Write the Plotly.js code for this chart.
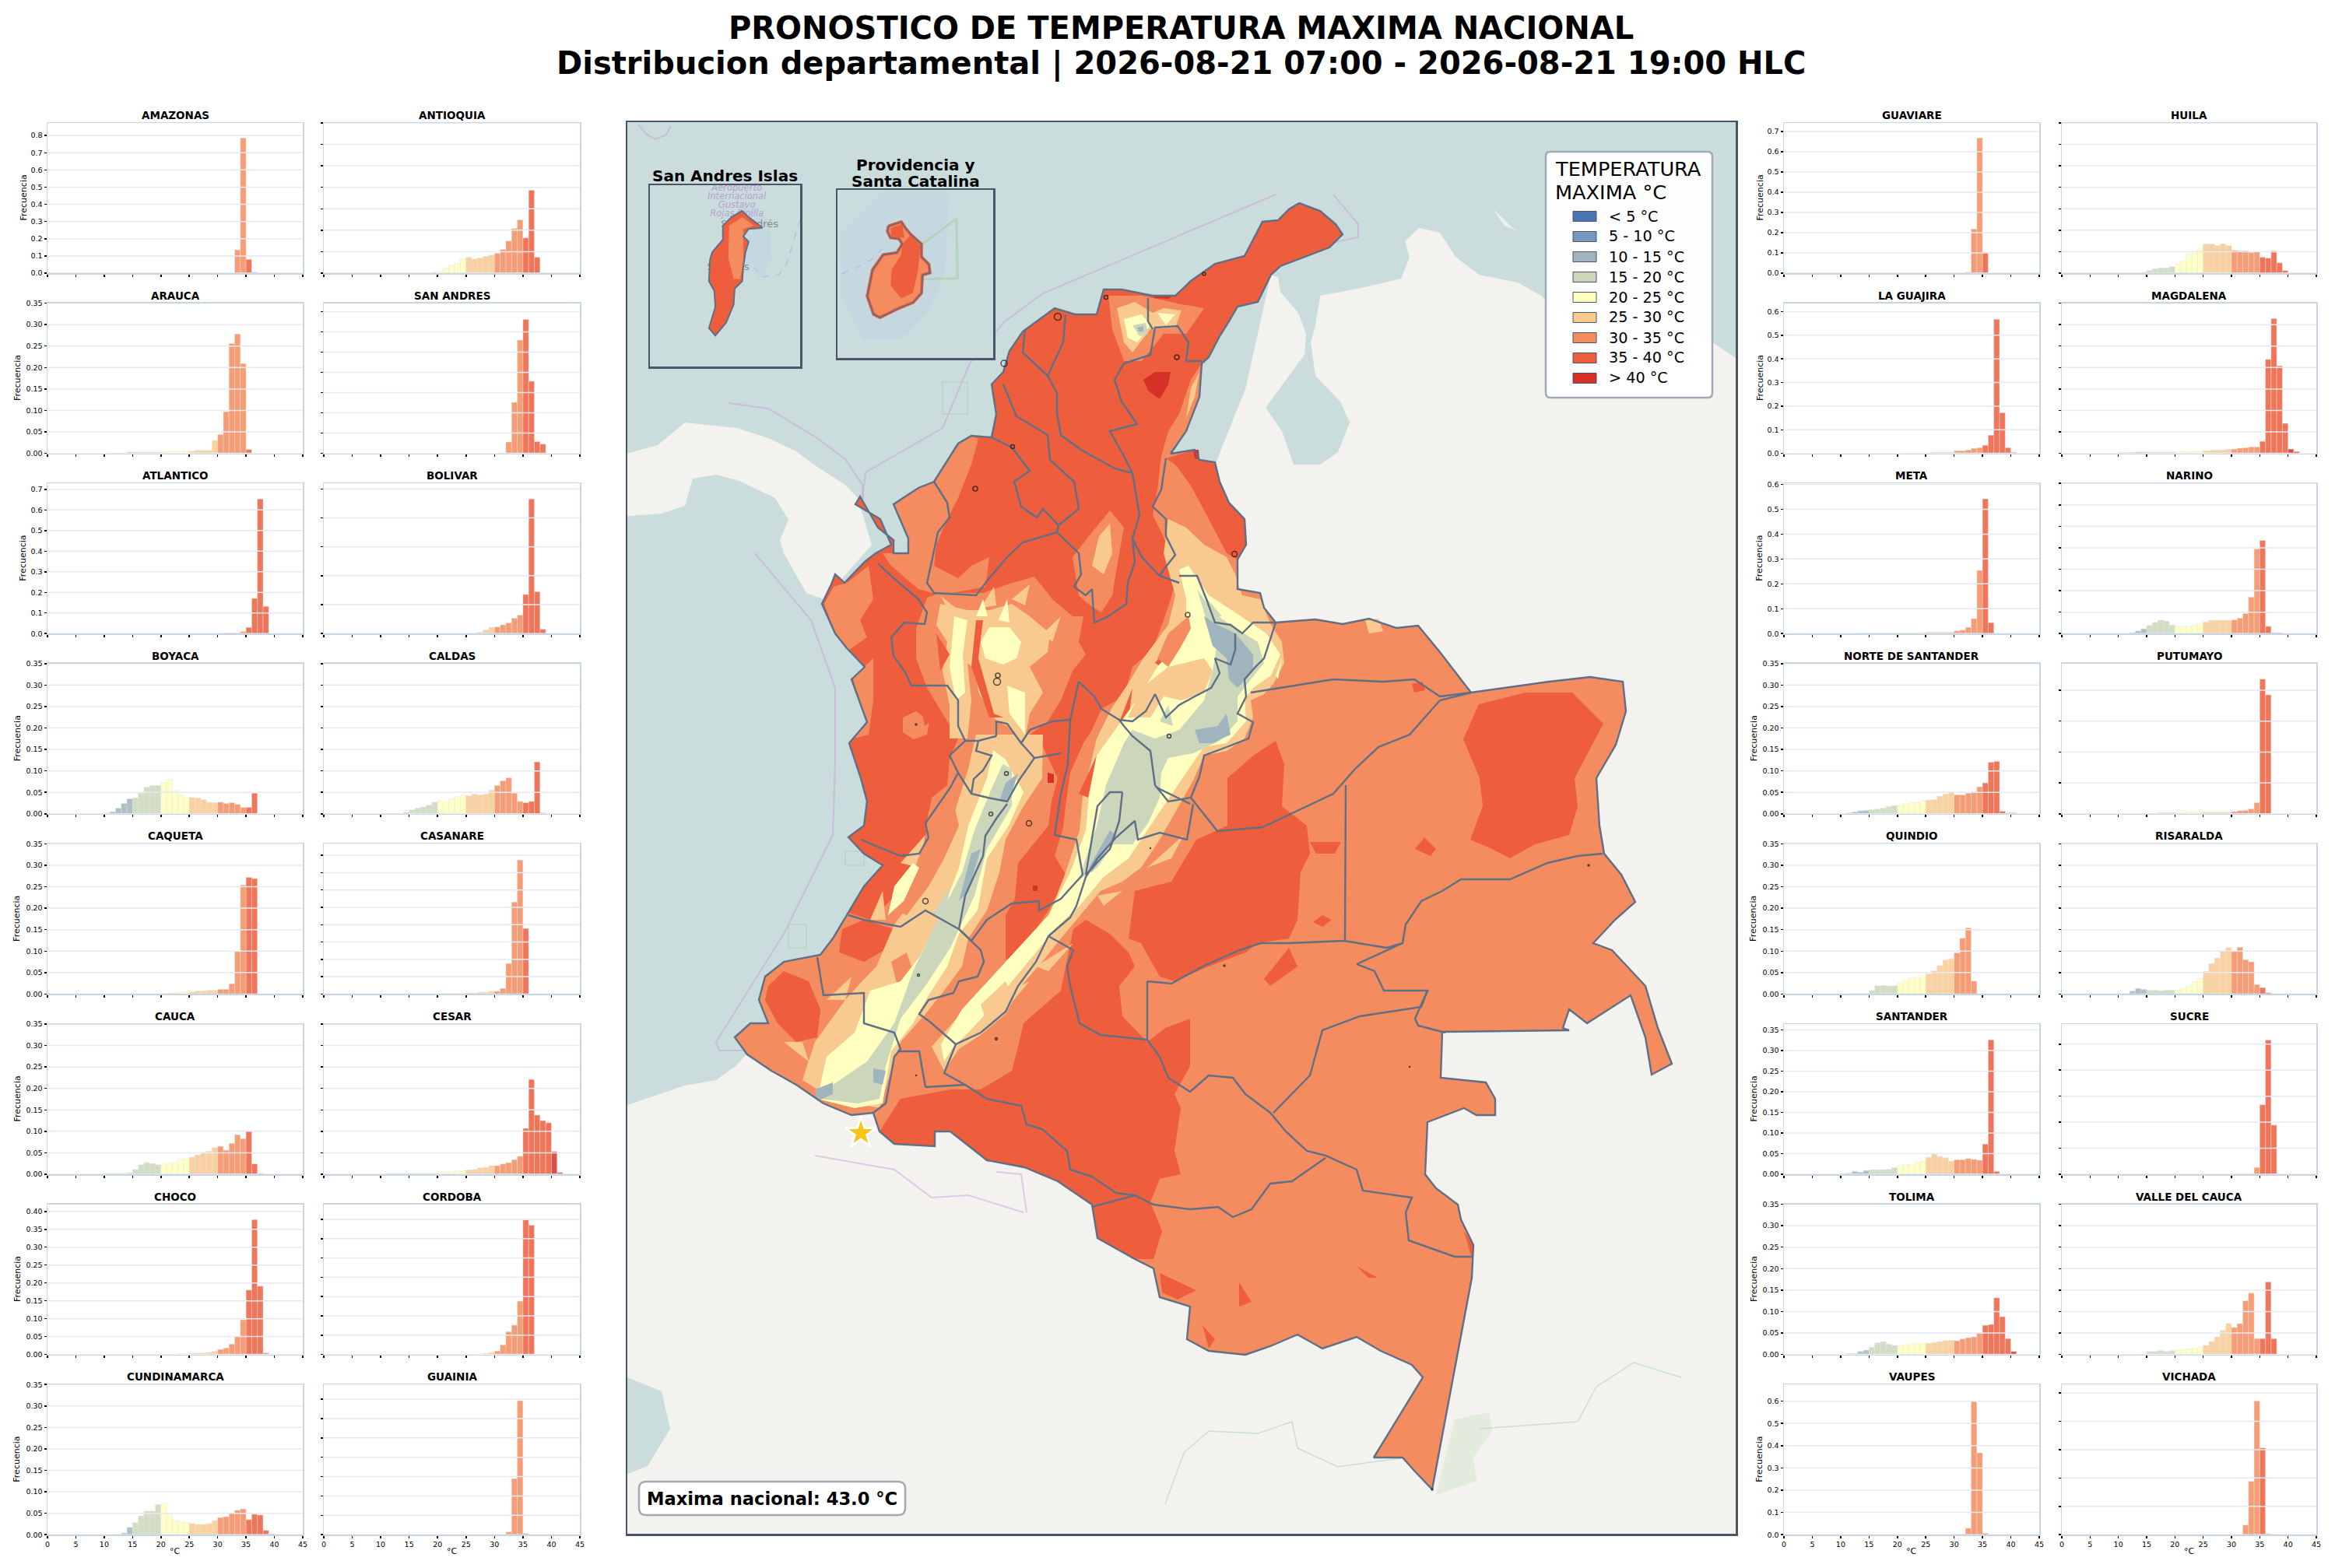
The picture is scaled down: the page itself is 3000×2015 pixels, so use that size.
<!DOCTYPE html>
<html>
<head>
<meta charset="utf-8">
<script src="https://cdn.plot.ly/plotly-3.0.1.min.js"></script>
<style>html,body{margin:0;padding:0;background:#fff}</style>
</head>
<body>
<div id="myDiv" style="width:3000px;height:2015px"></div>
<script>
/* jshint esversion: 6 */
/* global Plotly */

// Temperature classes: legend labels and colours
const classLabels = ['< 5 °C', '5 - 10 °C', '10 - 15 °C', '15 - 20 °C', '20 - 25 °C', '25 - 30 °C', '30 - 35 °C', '35 - 40 °C', '> 40 °C'];
const classColors = ['#4a74b4', '#7596bf', '#a0b4be', '#ccd6bb', '#ffffbf', '#f8ca90', '#f58c5f', '#ee5e3c', '#d73027'];

// Department histograms: frequency per 1 °C bin, beginning at firstBin
const deptNames = ['AMAZONAS', 'ANTIOQUIA', 'ARAUCA', 'SAN ANDRES', 'ATLANTICO', 'BOLIVAR', 'BOYACA', 'CALDAS',
    'CAQUETA', 'CASANARE', 'CAUCA', 'CESAR', 'CHOCO', 'CORDOBA', 'CUNDINAMARCA', 'GUAINIA',
    'GUAVIARE', 'HUILA', 'LA GUAJIRA', 'MAGDALENA', 'META', 'NARINO', 'NORTE DE SANTANDER', 'PUTUMAYO',
    'QUINDIO', 'RISARALDA', 'SANTANDER', 'SUCRE', 'TOLIMA', 'VALLE DEL CAUCA', 'VAUPES', 'VICHADA'];
const firstBin = [33, 19, 11, 31, 31, 26, 10, 10,
    20, 21, 10, 11, 23, 28, 13, 32,
    32, 14, 21, 10, 13, 12, 11, 15,
    12, 10, 10, 31, 11, 14, 31, 32];
const yTop = [0.873, 0.35, 0.35, 0.371, 0.729, 0.519, 0.35, 0.35,
    0.35, 0.433, 0.35, 0.35, 0.42, 0.389, 0.35, 0.388,
    0.742, 0.35, 0.636, 0.35, 0.604, 0.35, 0.35, 0.486,
    0.35, 0.35, 0.364, 0.577, 0.35, 0.35, 0.675, 0.53];

const amazonas = [0.135, 0.785, 0.08, 0.005];
const antioquia = [0.002, 0.005, 0.012, 0.019, 0.023, 0.033, 0.037, 0.033, 0.035, 0.039, 0.042, 0.046, 0.055, 0.075, 0.104, 0.124, 0.082, 0.193, 0.037];
const arauca = [0.001, 0.001, 0.001, 0.003, 0.003, 0.003, 0.003, 0.003, 0.003, 0.004, 0.004, 0.005, 0.005, 0.007, 0.005, 0.007, 0.007, 0.007, 0.03, 0.044, 0.097, 0.256, 0.278, 0.209, 0.009];
const sanAndres = [0.001, 0.028, 0.126, 0.28, 0.331, 0.178, 0.029, 0.023];
const atlantico = [0.003, 0.003, 0.003, 0.01, 0.03, 0.171, 0.653, 0.132];
const bolivar = [0.002, 0.005, 0.013, 0.022, 0.023, 0.03, 0.037, 0.053, 0.064, 0.135, 0.465, 0.145, 0.015];
const boyaca = [0.002, 0.005, 0.013, 0.024, 0.035, 0.037, 0.048, 0.062, 0.066, 0.066, 0.073, 0.08, 0.055, 0.044, 0.038, 0.038, 0.037, 0.033, 0.027, 0.026, 0.027, 0.024, 0.026, 0.022, 0.015, 0.015, 0.048];
const caldas = [0.001, 0.001, 0.001, 0.001, 0.003, 0.009, 0.013, 0.016, 0.02, 0.027, 0.031, 0.029, 0.035, 0.04, 0.044, 0.042, 0.046, 0.044, 0.046, 0.055, 0.066, 0.077, 0.084, 0.048, 0.029, 0.026, 0.029, 0.121, 0.002];
const caqueta = [0.002, 0.002, 0.004, 0.005, 0.005, 0.005, 0.007, 0.007, 0.009, 0.009, 0.011, 0.011, 0.024, 0.099, 0.254, 0.272, 0.269];
const casanare = [0.002, 0.002, 0.002, 0.002, 0.003, 0.003, 0.005, 0.005, 0.008, 0.008, 0.016, 0.088, 0.265, 0.386, 0.189];
const cauca = [0.002, 0.002, 0.002, 0.002, 0.003, 0.011, 0.022, 0.027, 0.025, 0.022, 0.024, 0.025, 0.029, 0.034, 0.036, 0.04, 0.045, 0.051, 0.054, 0.062, 0.065, 0.056, 0.072, 0.092, 0.083, 0.101, 0.024, 0.002];
const cesar = [0.002, 0.002, 0.002, 0.002, 0.002, 0.002, 0.002, 0.002, 0.002, 0.005, 0.005, 0.005, 0.007, 0.008, 0.01, 0.011, 0.015, 0.016, 0.02, 0.02, 0.024, 0.027, 0.034, 0.042, 0.107, 0.221, 0.138, 0.125, 0.12, 0.053, 0.004];
const choco = [0.002, 0.002, 0.004, 0.004, 0.004, 0.006, 0.009, 0.014, 0.018, 0.029, 0.051, 0.097, 0.18, 0.377, 0.191, 0.004];
const cordoba = [0.003, 0.005, 0.009, 0.025, 0.059, 0.076, 0.138, 0.349, 0.335];
const cundinamarca = [0.004, 0.017, 0.028, 0.044, 0.055, 0.055, 0.07, 0.073, 0.051, 0.033, 0.031, 0.028, 0.026, 0.024, 0.024, 0.026, 0.033, 0.04, 0.042, 0.05, 0.057, 0.06, 0.035, 0.048, 0.046, 0.01, 0.002];
const guainia = [0.007, 0.145, 0.346, 0.003];
const guaviare = [0.005, 0.218, 0.667, 0.102];
const huila = [0.002, 0.006, 0.01, 0.012, 0.012, 0.015, 0.021, 0.028, 0.044, 0.052, 0.058, 0.068, 0.068, 0.064, 0.068, 0.064, 0.053, 0.052, 0.052, 0.048, 0.05, 0.037, 0.035, 0.052, 0.024, 0.006];
const laGuajira = [0.002, 0.002, 0.002, 0.002, 0.002, 0.005, 0.005, 0.005, 0.005, 0.011, 0.011, 0.014, 0.021, 0.024, 0.034, 0.077, 0.568, 0.172, 0.024, 0.004];
const magdalena = [0.002, 0.002, 0.002, 0.003, 0.003, 0.003, 0.003, 0.003, 0.003, 0.003, 0.004, 0.004, 0.004, 0.004, 0.005, 0.006, 0.007, 0.008, 0.008, 0.01, 0.01, 0.012, 0.013, 0.015, 0.015, 0.028, 0.219, 0.314, 0.204, 0.07, 0.01, 0.004];
const meta = [0.002, 0.002, 0.002, 0.002, 0.002, 0.002, 0.002, 0.003, 0.003, 0.003, 0.003, 0.006, 0.006, 0.006, 0.006, 0.006, 0.006, 0.011, 0.014, 0.025, 0.06, 0.254, 0.542, 0.044];
const narino = [0.002, 0.006, 0.011, 0.019, 0.026, 0.031, 0.029, 0.02, 0.017, 0.017, 0.017, 0.021, 0.024, 0.027, 0.031, 0.031, 0.031, 0.031, 0.032, 0.036, 0.047, 0.085, 0.197, 0.217, 0.017, 0.002, 0.002];
const norteSantander = [0.002, 0.004, 0.007, 0.008, 0.01, 0.011, 0.013, 0.017, 0.019, 0.021, 0.023, 0.026, 0.026, 0.03, 0.032, 0.033, 0.041, 0.046, 0.051, 0.044, 0.044, 0.048, 0.051, 0.063, 0.072, 0.12, 0.122, 0.006, 0.002, 0.002];
const putumayo = [0.002, 0.002, 0.004, 0.004, 0.004, 0.004, 0.011, 0.006, 0.006, 0.006, 0.005, 0.005, 0.005, 0.005, 0.005, 0.007, 0.01, 0.011, 0.016, 0.036, 0.436, 0.385];
const quindio = [0.001, 0.001, 0.001, 0.008, 0.019, 0.02, 0.019, 0.019, 0.026, 0.032, 0.037, 0.039, 0.042, 0.047, 0.054, 0.066, 0.079, 0.082, 0.096, 0.13, 0.154, 0.03];
const risaralda = [0.001, 0.001, 0.007, 0.013, 0.011, 0.009, 0.009, 0.008, 0.009, 0.009, 0.009, 0.013, 0.019, 0.028, 0.036, 0.053, 0.071, 0.084, 0.099, 0.108, 0.099, 0.109, 0.08, 0.075, 0.022, 0.015, 0.003];
const santander = [0.002, 0.003, 0.007, 0.005, 0.009, 0.011, 0.011, 0.011, 0.012, 0.016, 0.021, 0.023, 0.024, 0.029, 0.032, 0.041, 0.049, 0.043, 0.04, 0.032, 0.035, 0.035, 0.038, 0.036, 0.034, 0.073, 0.326, 0.007];
const sucre = [0.002, 0, 0.002, 0.026, 0.267, 0.516, 0.189];
const tolima = [0.002, 0.002, 0.007, 0.01, 0.017, 0.027, 0.03, 0.024, 0.021, 0.021, 0.023, 0.025, 0.026, 0.026, 0.026, 0.028, 0.03, 0.032, 0.033, 0.032, 0.036, 0.039, 0.041, 0.05, 0.068, 0.07, 0.132, 0.088, 0.037, 0.007];
const valleCauca = [0.001, 0.007, 0.007, 0.009, 0.007, 0.009, 0.01, 0.012, 0.013, 0.015, 0.017, 0.021, 0.03, 0.041, 0.056, 0.072, 0.063, 0.072, 0.125, 0.143, 0.037, 0.037, 0.169, 0.037];
const vaupes = [0.002, 0.029, 0.6, 0.368, 0.006];
const vichada = [0.034, 0.188, 0.472, 0.306, 0.003];
const deptFreqs = [amazonas, antioquia, arauca, sanAndres, atlantico, bolivar, boyaca, caldas,
    caqueta, casanare, cauca, cesar, choco, cordoba, cundinamarca, guainia,
    guaviare, huila, laGuajira, magdalena, meta, narino, norteSantander, putumayo,
    quindio, risaralda, santander, sucre, tolima, valleCauca, vaupes, vichada];

// Map geometry, flat lon,lat pairs
const guajiraEast = [-71.81,12.39, -71.54,12.29, -71.34,12.12, -71.25,11.99, -71.42,11.82, -71.71,11.71, -72.05,11.58, -72.17,11.47, -72.34,11.12, -72.60,11.06, -72.71,10.87, -72.83,10.68, -72.97,10.41, -73.06,10.33];
const borderVenezuela = [-73.09,9.90, -73.26,9.46, -73.46,9.17, -73.15,9.22, -73.09,9.09, -72.89,9.06, -72.83,8.81, -72.71,8.54, -72.51,8.33, -72.49,8.00, -72.60,7.81, -72.60,7.43, -72.31,7.38, -72.26,7.19, -72.11,7.00, -71.60,7.04, -71.25,6.98, -70.91,7.05, -70.56,6.93, -70.28,6.96, -70.0,6.62, -69.6,6.1, -68.6,6.24, -68.07,6.30, -67.65,6.24, -67.61,5.86, -67.74,5.43];
const borderEast = [-67.99,5.0, -67.95,4.39, -67.89,4.03, -67.67,3.76, -67.49,3.41, -67.75,3.18, -68.03,2.88, -67.79,2.79, -67.51,2.49, -67.36,2.33, -67.20,1.79, -67.02,1.33, -67.28,1.19, -67.36,1.67, -67.55,2.21, -67.83,2.03, -68.11,1.85, -68.34,2.03, -68.42,1.79, -68.34,1.76, -69.97,1.74, -69.99,1.15, -69.41,1.09, -69.29,0.88, -69.29,0.67, -69.53,0.67, -69.69,0.76, -70.16,0.58, -70.19,-0.09, -70.05,-0.27, -69.77,-0.48, -69.73,-0.67, -69.57,-1.0, -69.59,-1.42, -70.10,-4.14];
const borderSouth = [-70.32,-3.91, -70.48,-3.73, -70.85,-3.73, -70.22,-2.70, -70.36,-2.54, -70.76,-2.36, -71.07,-2.18, -71.51,-2.33, -71.83,-2.15, -72.18,-2.30, -72.50,-2.41, -72.97,-2.36, -73.25,-2.21, -73.21,-1.79, -73.60,-1.67, -73.68,-1.30, -73.92,-1.18, -74.40,-0.91, -74.47,-0.48, -74.91,-0.18, -75.34,0.0, -75.82,0.09, -76.29,0.46, -76.49,0.46, -76.49,0.27, -77.01,0.30, -77.20,0.46, -77.28,0.70, -77.56,0.67, -77.92,0.82, -78.27,1.06, -78.59,1.24, -78.90,1.45, -79.06,1.67, -78.86,1.85, -78.63,1.85, -78.75,2.15, -78.67,2.45, -78.43,2.64, -77.96,2.73, -77.80,2.94];
const pacificNorth = [-77.60,3.27, -77.40,3.61, -77.16,3.88, -77.40,4.03, -77.60,4.24, -77.40,4.39, -77.36,4.70, -77.44,5.0, -77.59,5.45, -77.36,5.72, -77.56,6.27, -77.39,6.43, -77.62,6.67, -77.77,6.86, -77.94,7.24, -77.82,7.49, -77.77,7.62, -77.65,7.51, -77.39,7.78, -77.25,7.89, -77.05,8.00, -77.19,8.33, -77.51,8.52, -77.45,8.62, -77.22,8.22, -77.02,8.06, -77.02,7.89, -76.83,7.89, -76.83,8.08];
const caribbean = [-77.02,8.52, -76.70,8.73, -76.50,8.81, -76.19,9.30, -76.02,9.40, -75.76,9.38, -75.70,9.68, -75.76,10.06, -75.61,10.22, -75.53,10.49, -75.36,10.74, -74.95,11.04, -74.69,10.96, -74.41,10.96, -74.32,11.28, -74.09,11.28, -73.69,11.20, -73.40,11.20, -73.20,11.39, -72.89,11.61, -72.51,11.71, -72.28,12.15, -72.08,12.17, -71.94,12.31];

const valleyInner = [-73.20,10.12, -73.35,9.68, -73.49,9.46, -73.58,9.14, -73.63,8.71, -73.69,8.38, -73.58,8.16, -73.46,7.89, -73.37,7.62, -73.46,7.30, -73.55,7.03, -73.69,6.65, -73.95,6.43, -74.06,6.05, -74.35,5.89, -74.47,5.62, -74.58,5.45, -74.75,5.07, -74.81,4.64, -74.84,4.37, -74.95,4.0, -74.79,3.73, -75.03,3.30, -75.27,2.94, -75.34,2.70, -75.58,2.67, -75.58,3.24, -75.46,3.45, -75.42,3.91, -75.03,4.39, -74.99,4.70, -74.91,5.0, -75.10,5.40, -75.33,5.51, -75.04,5.73, -74.87,6.0, -74.72,6.38, -74.55,6.59, -74.64,6.75, -74.58,7.08, -74.72,7.08, -74.98,7.30, -75.21,7.59, -75.56,7.49, -75.87,7.38, -76.42,7.38, -76.59,7.32, -76.73,6.92, -76.73,6.54, -76.59,6.16, -76.36,5.78, -76.19,5.51, -76.30,5.24, -76.33,4.91, -76.53,4.75, -76.59,4.42, -76.62,4.0, -76.93,3.55, -77.32,3.18];

// Areas in the 35-40 class
const hot35 = [
    caribbean.concat(guajiraEast, valleyInner, pacificNorth),
    [-73.15,9.22, -73.09,9.09, -72.89,9.06, -72.83,8.81, -72.71,8.54, -72.51,8.33, -72.49,8.0, -72.60,7.81, -72.74,7.89, -72.97,8.33, -73.20,8.76, -73.40,9.03, -73.52,9.11],
    [-77.20,0.46, -77.01,0.30, -76.49,0.27, -76.49,0.46, -76.29,0.46, -75.82,0.09, -75.34,0.0, -74.91,-0.18, -74.47,-0.48, -74.40,-0.91, -73.92,-1.18, -73.68,-1.18, -73.57,-0.82, -73.72,-0.45, -73.60,-0.15, -73.33,-0.09, -73.41,0.21, -73.33,0.76, -73.41,0.94, -73.21,1.30, -73.21,1.91, -73.53,1.79, -73.76,1.61, -74.08,1.94, -74.12,2.33, -73.92,2.58, -74.0,2.76, -74.24,3.0, -74.55,3.18, -74.71,3.06, -74.87,2.27, -75.35,1.85, -75.42,1.55, -75.50,1.24, -75.90,1.0, -76.29,1.0, -76.61,0.94, -76.93,0.88],
    [-73.96,3.24, -73.92,3.55, -73.45,3.67, -73.13,4.21, -72.73,4.39, -72.73,5.0, -72.40,5.29, -72.11,5.48, -72.0,5.18, -72.03,4.64, -71.71,4.39, -71.67,4.03, -71.79,3.79, -71.83,3.18, -71.94,2.94, -72.34,2.88, -72.50,2.76, -72.97,2.58, -73.41,2.39, -73.60,2.45, -73.84,2.88, -74.0,2.94],
    [-69.61,4.21, -69.45,4.64, -69.49,5.0, -69.7,5.5, -69.5,5.95, -68.9,6.1, -68.3,6.1, -67.9,5.7, -68.27,5.0, -68.23,4.64, -68.34,4.27, -68.78,4.15, -69.1,3.97, -69.33,4.09],
    [-78.63,2.33, -78.43,2.52, -78.11,2.39, -77.96,2.03, -78.0,1.67, -78.27,1.61, -78.51,1.85, -78.67,2.15],
    [-77.68,3.06, -77.40,3.18, -77.01,3.06, -77.09,2.82, -77.40,2.64, -77.72,2.76],
    [-73.60,-1.36, -73.13,-1.58, -73.37,-1.70, -73.57,-1.61],
    [-73.05,-2.03, -72.89,-2.21, -72.97,-2.33],
    [-72.58,-1.48, -72.42,-1.73, -72.58,-1.79],
    [-69.69,-0.82, -69.57,-1.0, -69.59,-1.18],
    [-71.07,-1.27, -70.80,-1.42, -70.92,-1.42],
    [-71.94,2.82, -71.83,2.58, -72.18,2.33, -72.26,2.42],
    [-71.51,3.24, -71.39,3.18, -71.51,3.09, -71.63,3.15],
    [-71.67,4.18, -71.27,4.18, -71.35,4.03, -71.59,4.03],
    [-70.32,4.09, -70.20,4.24, -70.05,4.09, -70.12,4.0],
    [-70.36,6.21, -70.22,6.24, -70.19,6.13, -70.33,6.10]
];
// Areas in the 30-35 class lying on top of the 35-40 areas
const warm30 = [
    [-77.02,8.52, -76.70,8.73, -76.50,8.81, -76.19,9.30, -76.02,9.40, -75.93,9.36, -76.02,9.03, -76.19,8.60, -76.33,8.33, -76.47,8.0, -76.50,7.73, -76.19,7.57, -76.02,7.73, -75.79,7.84, -75.84,7.46, -76.42,7.35, -76.70,7.43, -77.05,7.73, -77.16,7.89, -77.02,7.89, -76.83,7.89, -76.83,8.08],
    [-74.47,8.16, -74.24,8.44, -74.06,8.22, -74.12,7.89, -74.21,7.35, -74.35,7.13, -74.52,7.24, -74.64,7.35, -74.72,7.84],
    [-77.91,7.24, -77.79,7.46, -77.62,7.51, -77.34,7.73, -77.28,7.30, -77.45,7.03, -77.36,6.81, -77.59,6.65, -77.77,6.86],
    [-76.90,5.78, -76.73,5.86, -76.56,5.73, -76.59,5.56, -76.76,5.50, -76.90,5.59],
    [-77.45,6.38, -77.28,6.54, -77.28,6.0, -77.34,5.56, -77.54,5.51, -77.36,5.72, -77.54,6.27],
    [-74.26,11.20, -73.83,11.20, -73.32,11.09, -73.03,11.04, -73.26,10.71, -73.55,10.71, -73.83,10.36, -74.06,10.36, -74.21,10.77]
];
// Andes, by class
const mild25 = [
    [-74.38,8.11, -74.24,8.27, -74.21,7.89, -74.32,7.62, -74.47,7.73],
    [-73.09,10.22, -73.15,9.90, -73.26,9.63, -73.20,10.01],
    [-74.15,11.04, -73.92,11.12, -73.69,10.98, -73.55,11.04, -73.32,11.01, -73.40,10.79, -73.72,10.77, -73.95,10.47, -74.06,10.60],
    [-70.96,7.03, -70.79,7.05, -70.73,6.89, -70.91,6.86],
    [-76.42,7.24, -76.07,7.16, -75.79,7.16, -75.50,7.24, -75.27,7.08, -75.01,6.86, -75.04,6.62, -75.27,6.43, -75.10,6.10, -75.27,5.83, -75.33,5.51, -75.38,5.45, -75.56,5.67, -75.70,5.73, -75.93,6.10, -75.96,6.38, -76.07,6.48, -76.02,6.0, -76.07,5.51, -76.30,5.51, -76.30,5.94, -76.39,6.38, -76.33,6.75, -76.47,6.97],
    [-75.96,5.56, -75.10,5.56, -75.11,5.0, -75.35,4.64, -75.58,4.21, -75.66,3.79, -75.82,3.30, -76.06,2.94, -76.14,2.58, -76.37,2.27, -76.61,1.97, -76.93,1.61, -77.09,1.12, -77.20,0.76, -77.80,0.88, -78.19,1.12, -78.03,1.61, -77.64,2.15, -77.48,2.33, -77.24,2.58, -77.01,3.12, -76.69,3.55, -76.37,4.09, -76.21,4.64, -76.06,5.12],
    [-73.49,8.33, -73.26,8.22, -73.03,8.0, -72.74,7.84, -72.63,7.62, -72.54,7.35, -72.31,7.30, -72.17,6.97, -72.03,6.75, -72.0,6.48, -72.14,6.21, -72.26,6.08, -72.43,6.0, -72.40,5.78, -72.51,5.51, -72.74,5.35, -73.03,5.29, -73.17,4.97, -73.60,4.21, -73.84,3.85, -74.08,3.67, -74.36,3.55, -74.67,3.18, -74.87,2.94, -75.11,2.64, -75.38,2.33, -75.58,1.97, -75.90,1.70, -76.18,1.52, -76.37,1.24, -76.53,1.55, -76.21,1.91, -75.66,2.52, -75.07,3.12, -74.83,3.73, -74.63,4.33, -74.59,4.76, -74.41,5.51, -74.21,5.91, -74.01,6.21, -73.81,6.54, -73.49,6.97, -73.40,7.35, -73.55,7.89]
];
const cauca30 = [
    [-76.57,4.58, -76.25,4.70, -76.18,4.39, -76.37,3.97, -76.57,3.61, -76.85,3.24, -77.01,3.30, -76.77,3.79, -76.61,4.21],
    [-77.05,2.64, -76.85,2.76, -76.77,2.52, -76.97,2.33]
];
// Spurs along the class edges
const spurs25 = [
    [-75.10,6.86, -74.87,7.08, -74.98,6.75],
    [-76.30,7.13, -76.42,7.35, -76.19,7.16],
    [-75.90,7.19, -75.73,7.46, -75.70,7.22],
    [-75.50,7.30, -75.27,7.49, -75.33,7.22],
    [-76.93,3.91, -76.61,4.27, -76.69,3.85],
    [-77.32,3.18, -77.16,3.55, -77.12,3.18],
    [-77.56,2.45, -77.88,2.15, -77.64,2.15],
    [-78.11,1.36, -78.43,1.61, -78.19,1.61],
    [-73.76,3.85, -73.29,4.27, -73.45,3.97],
    [-74.40,3.49, -74.08,3.55, -74.32,3.36],
    [-75.19,2.58, -74.71,2.88, -75.03,2.52],
    [-75.66,2.21, -75.27,2.39, -75.58,2.03]
];
const spurs35 = [
    [-74.64,4.80, -74.41,5.29, -74.52,4.75],
    [-74.12,5.72, -73.95,6.16, -74.01,5.67],
    [-73.66,6.48, -73.46,6.75, -73.58,6.43],
    [-76.47,6.86, -76.30,6.59, -76.42,6.38],
    [-76.70,6.10, -76.47,5.78, -76.62,5.67]
];
const spurs20 = [
    [-72.11,6.32, -72.03,6.54, -72.08,6.27],
    [-75.96,7.08, -75.87,7.30, -75.81,7.08],
    [-75.67,7.03, -75.56,7.30, -75.53,7.0]
];
const spurs15 = [
    [-73.60,5.73, -73.49,5.94, -73.43,5.67],
    [-72.80,7.08, -73.03,7.35, -72.92,7.05],
    [-76.29,3.61, -76.53,3.24, -76.37,3.18]
];
const cool20 = [
    [-74.06,10.90, -73.83,10.96, -73.72,10.82, -73.89,10.60, -74.01,10.66],
    [-73.63,10.98, -73.40,10.96, -73.52,10.82],
    [-75.79,6.94, -75.53,6.94, -75.38,6.75, -75.44,6.54, -75.61,6.46, -75.84,6.54, -75.90,6.75],
    [-75.56,6.19, -75.33,6.10, -75.33,5.56, -75.41,5.67, -75.53,5.83],
    [-76.24,7.08, -76.07,7.03, -76.13,6.59, -76.10,6.10, -76.22,6.0, -76.30,6.43, -76.27,6.75],
    [-77.01,3.61, -76.77,3.91, -76.69,3.85, -76.89,3.42, -77.09,3.24],
    [-75.74,5.36, -75.58,5.24, -75.35,4.82, -75.54,4.39, -75.82,3.97, -75.94,3.30, -76.18,3.0, -76.33,2.58, -76.57,2.21, -76.77,1.85, -77.05,1.49, -77.16,0.82, -77.52,0.76, -78.0,0.88, -77.88,1.42, -77.52,1.73, -77.32,2.27, -76.93,2.39, -76.69,2.70, -76.41,3.24, -76.18,3.85, -76.06,4.39, -75.82,5.0],
    [-73.23,7.73, -72.97,7.35, -72.63,7.13, -72.23,6.86, -72.05,6.59, -72.17,6.32, -72.40,6.16, -72.51,6.02, -72.49,5.73, -72.74,5.45, -73.03,5.40, -73.26,5.07, -73.76,4.33, -74.0,3.97, -74.32,3.73, -74.63,3.36, -74.95,3.06, -75.19,2.76, -75.50,2.39, -75.78,2.03, -76.06,1.73, -76.25,1.55, -76.37,1.36, -76.41,1.58, -76.14,2.03, -75.58,2.64, -75.03,3.24, -74.75,3.79, -74.55,4.33, -74.51,4.76, -74.41,5.29, -74.06,5.78, -73.83,6.10, -73.63,6.43, -73.26,6.86, -73.26,7.30, -73.35,7.68]
];
const boyaca25 = [
    [-74.01,5.78, -73.83,6.16, -73.49,6.43, -73.03,6.54, -72.92,6.38, -73.03,6.10, -73.32,6.0, -73.55,6.05, -73.72,5.78],
    [-75.90,2.09, -75.58,2.39, -75.50,2.21, -75.82,1.85]
];
// thin hot canyon of the Cauca river and warm spots inside the high ground
const canyon35 = [-75.96,7.03, -75.87,7.03, -75.93,6.54, -75.73,5.83, -75.61,5.78, -75.79,5.78, -76.02,6.43];
const boyaca30 = [-73.49,6.86, -73.23,7.08, -73.20,6.92, -73.35,6.65, -73.49,6.43, -73.63,6.54];
const cold15 = [
    [-73.95,10.82, -73.78,10.85, -73.75,10.71, -73.86,10.68],
    [-75.62,5.18, -75.50,5.12, -75.50,4.64, -75.82,4.09, -75.98,3.49, -76.29,2.82, -76.61,2.33, -76.93,1.91, -77.12,1.30, -77.20,0.88, -77.48,0.82, -77.96,0.88, -77.80,1.06, -77.36,1.36, -77.01,1.85, -76.77,2.52, -76.45,3.18, -76.14,3.79, -75.98,4.33, -75.78,4.82],
    [-73.12,7.43, -72.92,7.13, -72.69,6.97, -72.34,6.75, -72.26,6.48, -72.43,6.27, -72.60,6.05, -72.60,5.73, -72.83,5.48, -73.17,5.32, -73.49,5.26, -73.58,5.07, -73.60,4.75, -73.75,4.42, -73.95,4.15, -74.20,4.15, -74.40,3.85, -74.63,3.70, -74.55,3.97, -74.41,4.38, -74.29,4.91, -74.06,5.45, -73.95,5.62, -73.66,5.51, -73.35,5.62, -73.03,6.0, -72.92,6.38, -72.86,6.75, -73.0,7.03]
];
const cold10 = [
    [-73.89,10.79, -73.81,10.81, -73.81,10.74, -73.87,10.74],
    [-75.42,5.06, -75.50,4.82, -75.58,4.70, -75.66,4.70, -75.58,4.94],
    [-75.90,4.09, -76.06,3.55, -76.18,3.42, -76.02,4.03],
    [-78.03,1.0, -77.80,1.09, -77.80,0.94, -78.0,0.85],
    [-77.28,1.27, -77.12,1.24, -77.16,1.06, -77.28,1.09],
    [-73.03,7.08, -72.86,6.97, -72.63,6.86, -72.40,6.59, -72.40,6.38, -72.60,6.16, -72.71,6.27, -72.74,6.54, -72.92,6.70],
    [-73.15,5.62, -72.86,5.67, -72.74,5.83, -72.69,5.56, -72.92,5.45, -73.09,5.45],
    [-74.24,4.33, -74.16,4.27, -74.36,3.97, -74.47,3.79, -74.51,3.85]
];
const extreme40 = [
    [-73.81,10.12, -73.66,10.22, -73.46,10.22, -73.49,10.06, -73.60,9.87, -73.75,9.98],
    [-73.17,9.22, -73.10,9.22, -73.09,9.10, -73.15,9.11],
    [-75.04,5.07, -74.96,5.05, -74.96,4.94, -75.04,4.94],
    [-73.69,11.20, -73.43,11.20, -73.49,11.16, -73.66,11.17],
    [-75.23,3.62, -75.17,3.62, -75.17,3.55, -75.23,3.55]
];

// Department limits
const deptLines = [
    [-74.81,10.96, -74.84,10.60, -75.04,10.17, -74.92,9.95, -74.92,9.68, -74.87,9.41, -74.61,9.22, -74.41,9.11, -74.18,8.98, -73.95,8.92],
    [-75.33,10.77, -75.36,10.47, -75.04,10.17],
    [-75.61,10.06, -75.44,9.65, -75.04,9.41, -75.01,9.09, -74.70,8.81, -74.64,8.46, -74.90,8.25, -74.92,8.16],
    [-75.76,9.38, -75.50,9.25, -75.27,8.95, -75.47,8.81, -75.38,8.49, -75.18,8.35, -75.10,8.46, -74.90,8.25],
    [-76.50,8.81, -76.33,8.54, -76.30,8.35, -76.45,8.16, -76.53,7.78, -76.59,7.51, -76.50,7.38, -75.96,7.35, -75.79,7.57, -75.56,7.84, -75.36,8.03, -74.98,8.14, -74.92,8.16],
    [-74.92,8.16, -74.64,7.89, -74.61,7.62, -74.70,7.46, -74.55,7.35, -74.47,7.43, -74.44,7.0, -74.26,7.08, -74.03,7.24, -74.01,7.51, -73.92,7.78, -73.95,8.08, -73.86,8.38, -73.95,8.92],
    [-73.95,8.92, -74.06,9.14, -74.24,9.46, -73.89,9.55, -74.09,9.84, -74.18,10.12, -74.06,10.33, -73.72,10.44, -73.66,10.79, -73.37,10.81, -73.23,10.60, -73.26,10.36, -73.06,10.36],
    [-73.75,11.17, -73.75,10.87, -73.69,10.77],
    [-73.95,8.08, -73.83,7.84, -73.60,7.60, -73.35,7.51],
    [-73.52,9.11, -73.58,8.71, -73.69,8.49, -73.52,8.33, -73.52,8.11, -73.40,7.87, -73.55,7.68, -73.60,7.60],
    [-73.35,7.60, -73.12,7.60, -73.0,7.30, -72.89,7.0, -72.69,6.97, -72.54,6.86, -72.40,7.0, -72.11,7.0],
    [-72.63,6.86, -72.63,6.65, -72.69,6.46, -72.89,6.54, -72.83,6.35, -72.94,6.16, -73.15,6.05, -73.35,5.94, -73.52,5.78, -73.66,6.08, -73.78,5.86, -73.95,5.73, -74.12,5.75, -74.35,5.89, -74.44,6.05, -74.64,6.24, -74.75,5.75, -74.98,5.73, -75.27,5.62, -75.38,5.45, -75.56,5.70, -75.70,5.73, -75.70,5.54],
    [-72.11,7.0, -72.26,6.54, -72.37,6.43, -72.51,6.27, -72.49,6.05, -72.60,5.83, -72.40,5.72, -72.46,5.51, -72.74,5.40, -73.03,5.29, -73.09,5.02, -73.20,4.75, -73.49,4.70, -73.66,4.91, -73.72,5.35, -73.95,5.54, -74.06,5.67, -74.12,5.75],
    [-72.43,6.10, -71.88,6.19, -71.37,6.27, -70.73,6.24, -70.33,6.27, -70.0,6.05, -69.6,6.1],
    [-69.6,6.1, -70.0,6.0, -70.39,5.56, -70.79,5.40, -71.08,5.13, -71.37,4.80, -71.94,4.53, -72.28,4.37, -72.86,4.32, -73.20,4.75],
    [-71.21,4.91, -71.22,2.91],
    [-73.76,2.39, -73.45,2.36, -73.05,2.58, -72.58,2.79, -72.30,2.88, -71.94,2.88, -71.23,2.91, -70.68,2.82, -70.48,2.88, -70.44,3.12, -70.32,3.30, -70.24,3.42, -69.97,3.55, -69.73,3.70, -69.10,3.70, -68.62,3.91, -68.23,4.0, -67.91,4.03],
    [-71.07,2.61, -70.48,2.88],
    [-71.07,2.61, -70.84,2.52, -70.72,2.27, -70.16,2.27, -70.32,1.91, -70.28,1.82, -69.93,1.73],
    [-70.16,2.27, -70.24,2.06, -71.03,1.94, -71.51,1.76, -71.67,1.18, -72.14,0.70],
    [-73.76,2.39, -73.76,1.64, -73.60,1.42, -73.49,1.15, -73.21,0.97, -72.97,1.18, -72.66,1.15, -72.50,0.94, -72.18,0.70, -71.98,0.46, -71.71,0.21, -71.47,0.15, -71.07,-0.03, -70.99,-0.30, -70.36,-0.39, -70.44,-0.58, -70.40,-0.94, -69.81,-1.15, -69.57,-1.15],
    [-74.47,-0.51, -73.92,-0.36, -73.68,-0.48, -73.21,-0.54, -72.85,-0.51, -72.66,-0.64, -72.42,-0.54, -72.18,-0.21, -71.90,-0.18, -71.47,0.12],
    [-73.76,1.64, -74.36,1.70, -74.63,1.85, -74.75,2.33, -74.79,2.58, -74.71,2.79, -75.03,2.97],
    [-75.03,2.97, -75.19,2.64, -75.42,2.33, -75.58,2.0, -75.90,1.73, -76.22,1.58, -76.37,1.21, -76.10,1.06],
    [-76.61,1.03, -76.10,1.06, -75.82,0.88, -75.38,0.79, -75.31,0.55, -75.11,0.49, -74.79,0.21, -74.75,-0.03, -74.47,-0.12, -74.16,-0.33, -73.92,-0.36],
    [-73.17,4.67, -73.25,4.21, -73.60,4.30, -73.88,4.21, -73.92,4.45, -74.16,4.24, -74.40,3.97, -74.55,3.73, -74.67,3.36, -74.75,3.21, -75.03,2.97],
    [-73.64,4.88, -73.21,4.67],
    [-74.08,4.82, -74.24,4.82, -74.40,4.64, -74.47,4.21, -74.55,3.76, -74.24,4.09, -74.12,4.45, -74.08,4.82],
    [-74.59,3.76, -74.67,4.21, -74.95,4.27, -74.87,4.80, -74.78,5.18, -74.75,5.75],
    [-74.59,3.76, -74.87,3.45, -75.15,3.30, -75.15,3.42, -75.50,3.39, -75.82,3.18, -76.02,2.91, -76.18,3.06, -76.10,3.49, -75.87,4.0, -75.84,4.26, -75.70,4.48, -75.56,4.67],
    [-76.19,5.07, -76.02,4.80, -75.81,4.75, -75.56,4.70, -75.41,4.97, -75.21,5.26, -74.87,5.32],
    [-76.19,5.07, -76.29,4.88, -76.61,4.42, -76.57,4.24, -76.69,4.03, -76.93,4.0, -77.44,4.21],
    [-77.60,3.24, -77.40,3.18, -76.93,3.09, -76.61,3.30, -76.18,3.06],
    [-77.22,7.76, -77.02,7.57, -76.70,7.30, -76.59,7.13, -76.62,6.98, -76.88,7.0, -77.05,6.81, -77.02,6.57, -76.88,6.38, -76.79,6.19, -76.33,6.19, -76.19,6.0, -76.19,5.67, -76.10,5.48, -76.30,5.29, -76.19,5.07],
    [-76.10,5.48, -75.93,5.48, -75.70,5.54],
    [-75.93,5.48, -75.96,5.35, -75.76,5.29, -75.87,5.10, -75.99,4.99, -76.02,4.80],
    [-75.38,5.45, -75.21,5.26],
    [-76.18,3.06, -75.90,2.79, -75.86,2.64, -75.94,2.45, -76.18,2.39, -76.25,2.24, -76.57,2.15, -76.69,1.97, -76.53,1.85, -76.22,1.58],
    [-78.0,2.70, -77.92,2.21, -77.40,2.24, -77.40,1.85, -77.01,1.73, -76.93,1.52, -77.01,1.42, -77.12,0.82, -77.28,0.70],
    [-76.97,1.49, -76.69,1.49, -76.61,1.03]
];

// Base map
const mapLon = [-80.44, -66.2];
const mapLat = [-4.71, 13.43];
const landWest = [-80.7,9.10, -80.05,9.28, -79.7,9.57, -79.03,9.5, -78.63,9.37, -78.27,9.2, -78.0,9.0, -77.64,8.77, -77.48,8.6, -77.3,8.0, -77.91,7.3, -78.14,7.38, -78.43,7.89, -78.48,8.06, -78.37,8.32, -78.54,8.6, -79.0,8.82, -79.3,8.9, -79.6,8.85, -79.7,8.5, -80.0,8.4, -80.7,8.35];
const landMain = [-72.17,11.47, -71.54,11.2, -70.96,11.31, -70.5,11.42, -70.39,11.69, -70.45,11.9, -70.27,12.07, -70.0,12.01, -69.8,11.7, -69.5,11.47, -69.0,11.37, -68.7,11.2, -68.3,10.8, -67.7,10.7, -67.0,10.75, -66.5,10.6, -66.2,10.4, -65.5,10.3, -65.5,-6, -81.5,-6, -81.5,0.7, -80.44,0.8, -79.7,1.05, -79.3,1.12, -79.05,1.3, -78.9,1.46, -74.5,5, -72.5,10];
const landIsle = [-69.32,12.32, -69.17,12.10, -68.92,12.0, -69.07,12.07, -69.27,12.27];
const lakeMaracaibo = [-72.08,11.44, -71.54,11.2, -71.6,10.82, -71.66,10.6, -71.6,10.17, -71.28,9.84, -71.16,9.57, -71.31,9.19, -71.54,9.03, -71.88,9.03, -72.03,9.46, -72.24,9.76, -71.94,10.17, -71.74,10.44, -71.72,10.71, -71.82,10.98, -72.05,11.25];
const gulfGuayaquil = [-80.44,-2.7, -80.0,-2.88, -79.89,-3.36, -80.18,-3.84, -80.44,-3.94, -80.7,-3.9, -80.7,-2.7];
const forestLeticia = [-70.05,-4.21, -69.81,-3.24, -69.37,-3.15, -69.33,-3.39, -69.57,-3.73, -69.53,-4.03];
const seaLimits = [
    [-79.14,9.82, -78.63,9.75, -78.0,9.37, -77.64,9.10, -77.42,8.77, -77.42,8.57],
    [-72.11,12.5, -75.1,11.23, -75.59,10.87, -76.04,10.33, -76.39,9.5, -77.38,8.93, -77.42,8.57],
    [-71.37,12.5, -71.05,12.12, -71.05,11.95, -71.54,11.85],
    [-78.8,7.89, -78.08,7.03, -77.77,6.16, -77.77,5.18, -77.8,4.27, -78.43,3.0, -79.3,1.61, -79.26,1.5, -78.9,1.5],
    [-80.3,13.4, -80.19,13.27, -80.08,13.21, -79.94,13.27, -79.88,13.38],
    [-78.03,0.15, -77.01,-0.03, -76.53,-0.39, -76.06,-0.36, -75.35,-0.58],
    [-75.70,-0.06, -75.38,-0.09, -75.31,-0.58]
];
const parkLimits = [
    [-76.39,10.09, -76.07,10.09, -76.07,9.68, -76.39,9.68, -76.39,10.09],
    [-77.64,4.06, -77.40,4.06, -77.40,3.88, -77.64,3.88, -77.64,4.06],
    [-78.37,3.12, -78.14,3.12, -78.14,2.82, -78.37,2.82, -78.37,3.12]
];
const rivers = [
    [-73.53,-4.33, -73.29,-3.67, -72.97,-3.39, -72.34,-3.42, -71.90,-3.27, -71.83,-3.61, -71.31,-3.85, -70.44,-3.73],
    [-69.49,-3.36, -68.23,-3.27, -67.99,-2.82, -67.51,-2.51, -66.9,-2.70]
];

// Cities (black outlines) and the location of the national maximum
const cityLon = [-74.91, -75.60, -73.03, -74.29, -73.38, -75.49, -75.97, -72.64, -75.69, -75.68, -73.24, -73.48, -75.57, -75.77, -75.28, -76.73, -76.61, -76.70, -75.70, -70.39, -72.77, -73.72, -76.73, -68.09, -70.10];
const cityLat = [10.93, 10.33, 11.48, 11.18, 10.41, 9.26, 8.72, 7.88, 6.24, 6.32, 7.10, 5.54, 5.06, 4.54, 4.42, 5.69, 3.42, 2.47, 1.65, 1.29, 2.59, 4.10, 1.18, 3.88, -4.14];
const citySize = [9, 8, 4, 5, 6, 5, 6, 7, 9, 6, 6, 5, 5, 5, 7, 2, 7, 3, 3, 1, 2, 1, 1, 2, 2];
const starLon = [-77.44];
const starLat = [0.44];

// San Andres inset
const saLon = [-81.77, -81.63];
const saLat = [12.465, 12.635];
const sanAndresIsle = [-81.684,12.611, -81.678,12.605, -81.67,12.599, -81.665,12.595, -81.678,12.594, -81.683,12.587, -81.678,12.582, -81.681,12.572, -81.683,12.558, -81.684,12.545, -81.691,12.538, -81.692,12.523, -81.699,12.506, -81.709,12.494, -81.715,12.501, -81.709,12.521, -81.71,12.536, -81.715,12.545, -81.714,12.565, -81.712,12.572, -81.702,12.584, -81.702,12.597, -81.694,12.605];
const sanAndresWarm = [-81.696,12.597, -81.684,12.605, -81.673,12.597, -81.683,12.594, -81.683,12.584, -81.683,12.562, -81.686,12.547, -81.692,12.547, -81.697,12.567];
const sanAndresReef = [-81.681,12.616, -81.658,12.602, -81.657,12.562, -81.668,12.548, -81.681,12.562];
const sanAndresDash = [-81.63,12.603, -81.643,12.56, -81.65,12.551, -81.665,12.549, -81.673,12.558];
const placeNames = ['Aeropuerto', 'Internacional', 'Gustavo', 'Rojas Pinilla'];
const placeLat = [12.632, 12.624, 12.616, 12.608];
const placeLon = -81.689;

// Providencia inset
const provLon = [-81.44, -81.2935];
const provLat = [13.272, 13.43];
const providenciaIsle = [-81.392,13.396, -81.380,13.400, -81.376,13.394, -81.371,13.388, -81.361,13.379, -81.361,13.367, -81.354,13.360, -81.353,13.352, -81.360,13.350, -81.361,13.333, -81.369,13.324, -81.384,13.318, -81.400,13.310, -81.406,13.313, -81.412,13.330, -81.407,13.355, -81.397,13.369, -81.384,13.371, -81.379,13.379, -81.382,13.384, -81.390,13.385, -81.393,13.391];
const providenciaHot = [
    [-81.389,13.355, -81.380,13.369, -81.379,13.379, -81.371,13.388, -81.362,13.377, -81.364,13.355, -81.369,13.333, -81.380,13.328, -81.390,13.340],
    [-81.390,13.394, -81.379,13.398, -81.377,13.385, -81.389,13.385]
];
const providenciaReef = [-81.438,13.389, -81.397,13.428, -81.335,13.428, -81.339,13.352, -81.354,13.316, -81.380,13.289, -81.416,13.289, -81.436,13.328];
const providenciaPark = [-81.360,13.379, -81.328,13.403, -81.327,13.347, -81.359,13.346];
const providenciaDash = [-81.436,13.351, -81.420,13.358, -81.407,13.365, -81.394,13.379];

// Page layout in pixels
const W = 3000, H = 2015;
const columnsLeft = [[61, 389], [416, 745]];
const columnsRight = [[2292, 2620], [2649, 2976]];
const rowTop = 158, rowPitch = 231.6, rowHeight = 193;
const MAP_AXIS = 33, SA_AXIS = 34, PROV_AXIS = 35;
const GRID_COLOR = '#e6e9ef', SPINE_COLOR = '#c8d5e3', EDGE_COLOR = '#4a5568', LIMIT_COLOR = '#5f6f85';
const SEA_COLOR = '#cadcdc', LAND_COLOR = '#f3f2ef';

const fx = p => p / W;
const fy = p => 1 - p / H;
const axisRef = (letter, n) => letter + (n === 1 ? '' : n);
const layoutKey = (letter, n) => letter + 'axis' + (n === 1 ? '' : n);

function splitPairs(flat) {
    let x = [], y = [];
    for (let i = 0; i < flat.length; i += 2) {
        x.push(flat[i]);
        y.push(flat[i + 1]);
    }
    return {x: x, y: y};
}

function classColor(bin) {
    let k = bin < 5 ? 0 : bin >= 40 ? 8 : Math.floor(bin / 5);
    return classColors[k];
}

function polygon(flat, color, axis) {
    let p = splitPairs(flat);
    return {type: 'scatter', mode: 'none', x: p.x, y: p.y, fill: 'toself', fillcolor: color,
        xaxis: axisRef('x', axis), yaxis: axisRef('y', axis), hoverinfo: 'skip', showlegend: false};
}

function polyline(flat, color, width, axis, dash) {
    let p = splitPairs(flat);
    return {type: 'scatter', mode: 'lines', x: p.x, y: p.y, line: {color: color, width: width, dash: dash || 'solid'},
        xaxis: axisRef('x', axis), yaxis: axisRef('y', axis), hoverinfo: 'skip', showlegend: false};
}

function seaRect(lon, lat, axis) {
    return polygon([lon[0], lat[0], lon[1], lat[0], lon[1], lat[1], lon[0], lat[1]], SEA_COLOR, axis);
}

let traces = [];
let axes = {};
let shapes = [];
let annotations = [];

function label(text, x, y, size, opts) {
    annotations.push(Object.assign({text: text, x: fx(x), y: fy(y), xref: 'paper', yref: 'paper', showarrow: false,
        xanchor: 'center', yanchor: 'middle', font: {size: size, color: '#000'}, borderpad: 0}, opts || {}));
}

function roundedBox(x0, y0, x1, y1, r, fill, line, width) {
    let a = fx(x0), b = fx(x1), t = fy(y0), u = fy(y1), rx = r / W, ry = r / H;
    shapes.push({type: 'path', xref: 'paper', yref: 'paper', fillcolor: fill, line: {color: line, width: width},
        path: `M${a + rx},${t} L${b - rx},${t} Q${b},${t} ${b},${t - ry} L${b},${u + ry} Q${b},${u} ${b - rx},${u} ` +
              `L${a + rx},${u} Q${a},${u} ${a},${u + ry} L${a},${t - ry} Q${a},${t} ${a + rx},${t} Z`});
}

// Histogram panels
deptNames.forEach((name, k) => {
    let n = k + 1;
    let group = k < 16 ? columnsLeft : columnsRight;
    let local = k % 16;
    let row = Math.floor(local / 2), col = local % 2;
    let left = group[col][0], right = group[col][1];
    let top = rowTop + row * rowPitch, bottom = top + rowHeight;
    let dtick = yTop[k] > 0.45 ? 0.1 : 0.05;

    let freq = deptFreqs[k];
    let bins = freq.map((v, i) => firstBin[k] + i);
    traces.push({type: 'bar', x: bins.map(b => b + 0.5), y: freq, width: 1,
        marker: {color: bins.map(classColor), opacity: 0.85, line: {color: 'rgba(225,225,225,0.6)', width: 0.8}},
        xaxis: axisRef('x', n), yaxis: axisRef('y', n), hoverinfo: 'skip', showlegend: false});

    // the grid lies over the bars in this chart
    let gx = [], gy = [];
    for (let i = 0; i * dtick <= yTop[k] + 1e-9; i++) {
        gx.push(0, 45, null);
        gy.push(i * dtick, i * dtick, null);
    }
    traces.push({type: 'scatter', mode: 'lines', x: gx, y: gy, line: {color: GRID_COLOR, width: 1.5},
        xaxis: axisRef('x', n), yaxis: axisRef('y', n), hoverinfo: 'skip', showlegend: false});

    let common = {showline: true, mirror: true, linecolor: SPINE_COLOR, linewidth: 1.5, showgrid: false, zeroline: false,
        ticks: 'outside', ticklen: 3, tickwidth: 1.5, tickcolor: '#000', tickfont: {size: 9.5, color: '#000'}, fixedrange: true};

    axes[layoutKey('x', n)] = Object.assign({}, common, {domain: [fx(left), fx(right)], anchor: axisRef('y', n),
        range: [0, 45], tick0: 0, dtick: 5, showticklabels: row === 7});
    axes[layoutKey('y', n)] = Object.assign({}, common, {domain: [fy(bottom), fy(top)], anchor: axisRef('x', n),
        range: [0, yTop[k]], tick0: 0, dtick: dtick, tickformat: dtick === 0.1 ? '.1f' : '.2f', showticklabels: col === 0});

    label('<b>' + name + '</b>', (left + right) / 2, top - 1, 13.5, {yanchor: 'bottom'});
    if (col === 0) {
        let labelX = left - (dtick === 0.1 ? 31 : 39);
        label('Frecuencia', labelX, (top + bottom) / 2, 11, {textangle: -90});
    }
    if (row === 7) {
        label('°C', (left + right) / 2, 1993, 11);
    }
});

// Main map
traces.push(seaRect(mapLon, mapLat, MAP_AXIS));
[landWest, landMain, landIsle].forEach(p => traces.push(polygon(p, LAND_COLOR, MAP_AXIS)));
[lakeMaracaibo, gulfGuayaquil].forEach(p => traces.push(polygon(p, SEA_COLOR, MAP_AXIS)));
traces.push(polygon(forestLeticia, 'rgba(222,232,216,0.8)', MAP_AXIS));
seaLimits.forEach(l => traces.push(polyline(l, 'rgba(200,150,215,0.45)', 2, MAP_AXIS)));
parkLimits.forEach(l => traces.push(polyline(l, 'rgba(170,210,175,0.6)', 1.5, MAP_AXIS)));
rivers.forEach(l => traces.push(polyline(l, 'rgba(170,210,205,0.6)', 1.5, MAP_AXIS)));

const outline = guajiraEast.concat(borderVenezuela, borderEast, borderSouth, pacificNorth, caribbean);
traces.push(polygon(outline, classColors[6], MAP_AXIS));
hot35.forEach(p => traces.push(polygon(p, classColors[7], MAP_AXIS)));
warm30.forEach(p => traces.push(polygon(p, classColors[6], MAP_AXIS)));
mild25.forEach(p => traces.push(polygon(p, classColors[5], MAP_AXIS)));
spurs25.forEach(p => traces.push(polygon(p, classColors[5], MAP_AXIS)));
spurs35.forEach(p => traces.push(polygon(p, classColors[7], MAP_AXIS)));
cauca30.forEach(p => traces.push(polygon(p, classColors[6], MAP_AXIS)));
cool20.forEach(p => traces.push(polygon(p, classColors[4], MAP_AXIS)));
spurs20.forEach(p => traces.push(polygon(p, classColors[4], MAP_AXIS)));
boyaca25.forEach(p => traces.push(polygon(p, classColors[5], MAP_AXIS)));
traces.push(polygon(canyon35, classColors[7], MAP_AXIS));
traces.push(polygon(boyaca30, classColors[6], MAP_AXIS));
cold15.forEach(p => traces.push(polygon(p, classColors[3], MAP_AXIS)));
spurs15.forEach(p => traces.push(polygon(p, classColors[3], MAP_AXIS)));
cold10.forEach(p => traces.push(polygon(p, classColors[2], MAP_AXIS)));
extreme40.forEach(p => traces.push(polygon(p, classColors[8], MAP_AXIS)));

deptLines.forEach(l => traces.push(polyline(l, LIMIT_COLOR, 2.4, MAP_AXIS)));
traces.push(polyline(outline.concat(outline.slice(0, 2)), LIMIT_COLOR, 2.4, MAP_AXIS));

traces.push({type: 'scatter', mode: 'markers', x: cityLon, y: cityLat,
    marker: {symbol: 'circle-open', size: citySize, color: '#111', line: {width: 1.5, color: '#111'}},
    xaxis: axisRef('x', MAP_AXIS), yaxis: axisRef('y', MAP_AXIS), hoverinfo: 'skip', showlegend: false});
traces.push({type: 'scatter', mode: 'markers', x: starLon, y: starLat,
    marker: {symbol: 'star', size: 30, color: '#f5c518', line: {width: 3, color: '#fff'}},
    xaxis: axisRef('x', MAP_AXIS), yaxis: axisRef('y', MAP_AXIS), hoverinfo: 'skip', showlegend: false});

function bareAxis(domain, range, anchor) {
    return {domain: domain, range: range, anchor: anchor, showgrid: false, zeroline: false, showticklabels: false,
        ticks: '', showline: true, mirror: true, linecolor: EDGE_COLOR, linewidth: 2.5, fixedrange: true};
}
axes[layoutKey('x', MAP_AXIS)] = bareAxis([fx(806), fx(2230)], mapLon, axisRef('y', MAP_AXIS));
axes[layoutKey('y', MAP_AXIS)] = bareAxis([fy(1971), fy(157)], mapLat, axisRef('x', MAP_AXIS));

// San Andres inset
traces.push(seaRect(saLon, saLat, SA_AXIS));
traces.push(polygon(sanAndresReef, 'rgba(190,210,228,0.45)', SA_AXIS));
traces.push(polyline(sanAndresDash, 'rgba(170,180,235,0.7)', 1.5, SA_AXIS, 'dash'));
traces.push({type: 'scatter', mode: 'text', x: placeNames.map(() => placeLon), y: placeLat, text: placeNames,
    textfont: {size: 11.5, color: '#b79fd0', style: 'italic'}, xaxis: axisRef('x', SA_AXIS), yaxis: axisRef('y', SA_AXIS),
    hoverinfo: 'skip', showlegend: false});
traces.push({type: 'scatter', mode: 'text', x: [-81.677, -81.697], y: [12.598, 12.558], text: ['San Andrés', 'San Luis'],
    textfont: {size: 13, color: '#888'}, xaxis: axisRef('x', SA_AXIS), yaxis: axisRef('y', SA_AXIS),
    hoverinfo: 'skip', showlegend: false});
traces.push(polygon(sanAndresIsle, classColors[7], SA_AXIS));
traces.push(polygon(sanAndresWarm, classColors[6], SA_AXIS));
traces.push(polyline(sanAndresIsle.concat(sanAndresIsle.slice(0, 2)), LIMIT_COLOR, 2, SA_AXIS));
axes[layoutKey('x', SA_AXIS)] = bareAxis([fx(835), fx(1028)], saLon, axisRef('y', SA_AXIS));
axes[layoutKey('y', SA_AXIS)] = bareAxis([fy(471), fy(238)], saLat, axisRef('x', SA_AXIS));

// Providencia inset
traces.push(seaRect(provLon, provLat, PROV_AXIS));
traces.push(polygon(providenciaReef, 'rgba(190,210,228,0.45)', PROV_AXIS));
traces.push(polyline(providenciaPark, 'rgba(170,210,175,0.7)', 3, PROV_AXIS));
traces.push(polyline(providenciaDash, 'rgba(170,180,235,0.7)', 1.5, PROV_AXIS, 'dash'));
traces.push(polygon(providenciaIsle, classColors[6], PROV_AXIS));
providenciaHot.forEach(p => traces.push(polygon(p, classColors[7], PROV_AXIS)));
traces.push(polyline(providenciaIsle.concat(providenciaIsle.slice(0, 2)), classColors[7], 4, PROV_AXIS));
traces.push(polyline(providenciaIsle.concat(providenciaIsle.slice(0, 2)), LIMIT_COLOR, 1.6, PROV_AXIS));
axes[layoutKey('x', PROV_AXIS)] = bareAxis([fx(1076), fx(1276)], provLon, axisRef('y', PROV_AXIS));
axes[layoutKey('y', PROV_AXIS)] = bareAxis([fy(460), fy(244)], provLat, axisRef('x', PROV_AXIS));

// Titles
label('<b>PRONOSTICO DE TEMPERATURA MAXIMA NACIONAL</b>', 1517, 36, 40);
label('<b>Distribucion departamental | 2026-08-21 07:00 - 2026-08-21 19:00 HLC</b>', 1517, 82, 40);
label('<b>San Andres Islas</b>', 931, 226, 20);
label('<b>Providencia y</b>', 1176, 212, 20);
label('<b>Santa Catalina</b>', 1176, 233, 20);

// Legend
roundedBox(1986, 195, 2200, 511, 6, 'rgba(255,255,255,0.97)', '#a0aab8', 2.5);
label('TEMPERATURA', 1997, 217, 25.6, {xanchor: 'left'});
label('MAXIMA °C', 1997, 247, 25.6, {xanchor: 'left'});
classLabels.forEach((text, i) => {
    let y = 278 + i * 26;
    shapes.push({type: 'rect', xref: 'paper', yref: 'paper', x0: fx(2021), x1: fx(2051), y0: fy(y + 6.5), y1: fy(y - 6.5),
        fillcolor: classColors[i], line: {color: EDGE_COLOR, width: 1}});
    label(text, 2066, y, 19.2, {xanchor: 'left'});
});

// National maximum
roundedBox(821, 1904, 1163, 1947, 9, 'rgba(255,255,255,0.97)', '#a0aab8', 2.5);
label('<b>Maxima nacional: 43.0 °C</b>', 830, 1926, 22.6, {xanchor: 'left'});

let layout = Object.assign({
    width: W,
    height: H,
    margin: {l: 0, r: 0, t: 0, b: 0, pad: 0},
    paper_bgcolor: '#fff',
    plot_bgcolor: '#fff',
    font: {family: '"DejaVu Sans", sans-serif', color: '#000'},
    showlegend: false,
    shapes: shapes,
    annotations: annotations
}, axes);

Plotly.newPlot('myDiv', traces, layout, {displayModeBar: false, staticPlot: true});
</script>
</body>
</html>
